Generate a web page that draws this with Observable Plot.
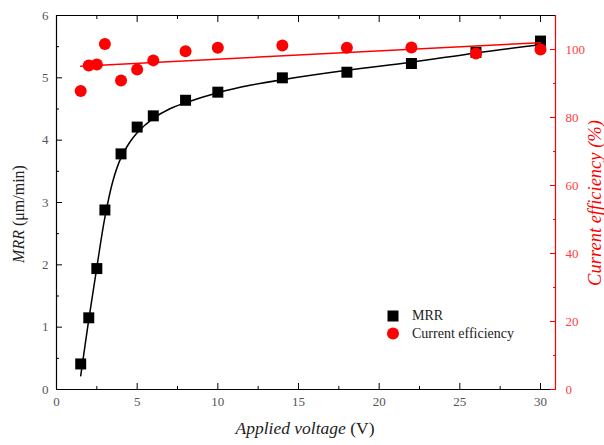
<!DOCTYPE html>
<html><head><meta charset="utf-8">
<script src="https://cdn.jsdelivr.net/npm/d3@7"></script>
<script src="https://cdn.jsdelivr.net/npm/@observablehq/plot@0.6"></script>
<style>body{margin:0;background:#fff;overflow:hidden}</style>
</head><body><div id="chart"></div>
<script>
const voltage = [1.5, 2, 2.5, 3, 4, 5, 6, 8, 10, 14, 18, 22, 26, 30];
const mrr = [0.41, 1.15, 1.94, 2.88, 3.78, 4.21, 4.39, 4.64, 4.77, 5.00, 5.09, 5.23, 5.41, 5.59];
const efficiency = [87.8, 95.3, 95.6, 101.6, 90.9, 94.1, 96.8, 99.5, 100.5, 101.2, 100.5, 100.6, 98.8, 100.0];
const fitVoltage = [1.5, 2, 2.5, 3, 3.5, 4, 4.5, 5, 6, 7, 8, 10, 12, 14, 18, 22, 26, 30];
const fitMrr = [0.22, 1.12, 1.96, 2.76, 3.35, 3.72, 3.95, 4.12, 4.35, 4.5, 4.6, 4.76, 4.88, 4.97, 5.12, 5.25, 5.4, 5.53];
const xTicks = [0, 5, 10, 15, 20, 25, 30];
const xMinor = [2.5, 7.5, 12.5, 17.5, 22.5, 27.5];
const yTicks = [0, 1, 2, 3, 4, 5, 6];
const yMinor = [0.5, 1.5, 2.5, 3.5, 4.5, 5.5];
const effTicks = [0, 20, 40, 60, 80, 100];
const effMinor = [10, 30, 50, 70, 90];
const xMax = 30.93, yMax = 6, effMax = 110;

const toY = v => v * yMax / effMax;
const mrrData = voltage.map((v, i) => ({v, m: mrr[i]}));
const effData = voltage.map((v, i) => ({v, e: toY(efficiency[i])}));
const fitData = fitVoltage.map((v, i) => ({v, m: fitMrr[i]}));

const RED = "#ff0000";
const font = "Liberation Serif, Times New Roman, serif";
const plot = Plot.plot({
  width: 604, height: 445,
  marginLeft: 56, marginRight: 49, marginTop: 15, marginBottom: 56,
  style: {fontFamily: font, fontSize: "13px", background: "#fff", overflow: "visible"},
  x: {domain: [0, xMax], axis: null},
  y: {domain: [0, yMax], axis: null},
  marks: [
    Plot.ruleX([0], {stroke: "black", strokeWidth: 1.2}),
    Plot.ruleY([0], {stroke: "black", strokeWidth: 1.2}),
    Plot.ruleY([yMax], {stroke: "black", strokeWidth: 1.2}),
    Plot.ruleX([xMax], {stroke: RED, strokeWidth: 1.2}),
    Plot.axisX(xTicks, {anchor: "bottom", tickSize: -6, tickPadding: 13, label: null, stroke: "black", fill: "#555", tickFormat: d => String(d)}),
    Plot.axisX(xMinor, {anchor: "bottom", tickSize: -3, tickFormat: () => "", label: null, stroke: "black"}),
    Plot.axisX(xTicks, {anchor: "top", tickSize: -6, tickFormat: () => "", label: null, stroke: "black"}),
    Plot.axisX(xMinor, {anchor: "top", tickSize: -3, tickFormat: () => "", label: null, stroke: "black"}),
    Plot.axisY(yTicks, {anchor: "left", tickSize: -6, tickPadding: 14, label: null, stroke: "black", fill: "#555", tickFormat: d => String(d)}),
    Plot.axisY(yMinor, {anchor: "left", tickSize: -3, tickFormat: () => "", label: null, stroke: "black"}),
    Plot.axisY(effTicks.map(toY), {anchor: "right", tickSize: -6, tickPadding: 16, label: null, stroke: RED, fill: "#ff4040", tickFormat: d => String(Math.round(d * effMax / yMax))}),
    Plot.axisY(effMinor.map(toY), {anchor: "right", tickSize: -3, tickFormat: () => "", label: null, stroke: RED}),
    Plot.line(fitData, {x: "v", y: "m", curve: "catmull-rom", stroke: "black", strokeWidth: 1.5}),
    Plot.dot(mrrData, {x: "v", y: "m", symbol: "square", r: 6.2, fill: "black"}),
    Plot.linearRegressionY(effData, {x: "v", y: "e", stroke: RED, strokeWidth: 1.5, ci: 0}),
    Plot.dot(effData, {x: "v", y: "e", symbol: "circle", r: 6, fill: RED})
  ]
});
document.getElementById("chart").appendChild(plot);

const svg = d3.select(plot);
// X label
const xl = svg.append("text").attr("x", 305).attr("y", 434).attr("text-anchor", "middle")
  .attr("font-family", font).attr("font-size", 17.5).attr("fill", "#222");
xl.append("tspan").attr("font-style", "italic").text("Applied voltage");
xl.append("tspan").text(" (V)");
// Left Y label
const yl = svg.append("text").attr("transform", "translate(24,214) rotate(-90)").attr("text-anchor", "middle")
  .attr("font-family", font).attr("font-size", 16).attr("fill", "#222");
yl.append("tspan").attr("font-style", "italic").text("MRR");
yl.append("tspan").text(" (μm/min)");
// Right Y label
svg.append("text").attr("transform", "translate(601,203) rotate(-90)").attr("text-anchor", "middle")
  .attr("font-family", font).attr("font-size", 18.5).attr("font-style", "italic").attr("fill", RED)
  .text("Current efficiency (%)");
// Legend
const lg = svg.append("g").attr("font-family", font).attr("font-size", 14).attr("fill", "#222").attr("text-anchor", "start");
lg.append("rect").attr("x", 387.5).attr("y", 310.5).attr("width", 11).attr("height", 11).attr("fill", "black");
lg.append("text").attr("x", 412).attr("y", 320).attr("text-anchor", "start").text("MRR");
lg.append("circle").attr("cx", 393).attr("cy", 333.5).attr("r", 6).attr("fill", RED);
lg.append("text").attr("x", 412).attr("y", 338).attr("text-anchor", "start").text("Current efficiency");
</script>
</body></html>
